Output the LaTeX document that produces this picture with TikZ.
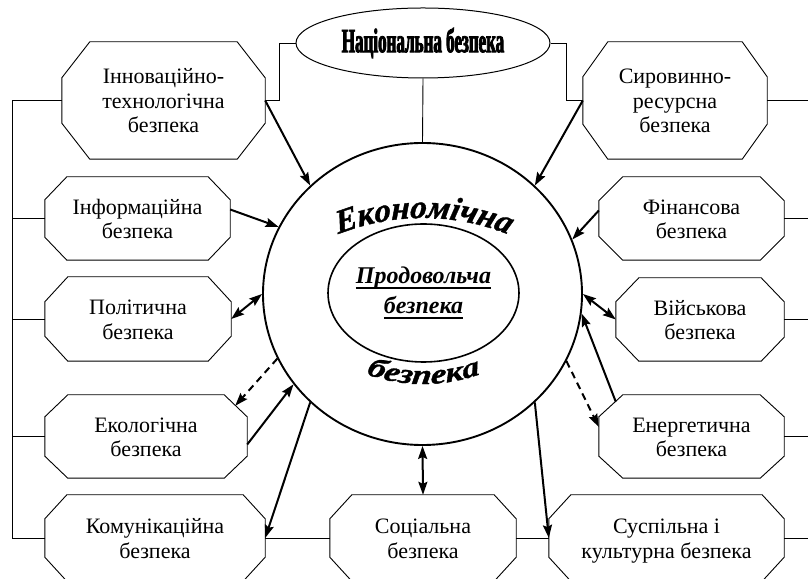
\documentclass[tikz,border=0pt]{standalone}
\usepackage{fontspec}
\setmainfont{Liberation Serif}
\newfontfamily\natfont[FakeStretch=0.5,FakeBold=2.5]{Liberation Serif}
\newfontfamily\ecofont[UprightFont=* Bold Italic,FakeSlant=0.12,FakeBold=1.2]{Liberation Serif}
\newfontfamily\foodfont[UprightFont=* Bold Italic]{Liberation Serif}
\newfontfamily\bezfont[UprightFont=* Bold Italic,FakeStretch=1.25,FakeSlant=0.12,FakeBold=1.2]{Liberation Serif}
\usetikzlibrary{arrows.meta,shapes.geometric,decorations.text}
\newcommand\myul[1]{\setbox0\hbox{#1}\rlap{\rule[-5pt]{\wd0}{2.2pt}}\box0}
\newcommand\btxt[1]{\raisebox{-3pt}[\height][\depth]{\begin{tabular}{@{}c@{}}#1\end{tabular}}}
\newcommand\octbox[3]{\draw[line width=0.9pt] ([xshift=#2pt]#1.north west) -- ([xshift=-#2pt]#1.north east) -- ([yshift=-#3pt]#1.north east) -- ([yshift=#3pt]#1.south east) -- ([xshift=-#2pt]#1.south east) -- ([xshift=#2pt]#1.south west) -- ([yshift=#3pt]#1.south west) -- ([yshift=-#3pt]#1.north west) -- cycle;}
\tikzset{
  box/.style={rectangle, draw=none, inner sep=0pt, font=\fontsize{22}{24.5}\selectfont},
  tip/.tip={Stealth[length=13pt,width=9pt,inset=2pt]},
  arr/.style={line width=2pt, -tip},
  darr/.style={line width=2pt, tip-tip},
  dasharr/.style={arr, dash pattern=on 7pt off 5pt},
  lnk/.style={line width=0.9pt}
}
\begin{document}
\begin{tikzpicture}[x=1pt,y=1pt]
\useasboundingbox (0,0) rectangle (808,578);
\clip (0,0) rectangle (808,578);

\node[ellipse, draw, line width=1pt, minimum width=254pt, minimum height=70pt, inner sep=0pt] (nat) at (423,535) {\natfont\bfseries\fontsize{34}{34}\selectfont Національна безпека};
\node[ellipse, draw, line width=1.9pt, minimum width=319pt, minimum height=302pt, inner sep=0pt] (eco) at (422.5,284) {};
\node[ellipse, draw, line width=1.6pt, minimum width=147pt, minimum height=138pt, inner sep=0pt, align=center, font=\foodfont\fontsize{24}{30}\selectfont] (food) at (423.5,285) {\myul{Продовольча}\\\myul{безпека}};

% left column
\node[box, minimum width=203pt, minimum height=117pt] (b1) at (163.5,477.5) {\btxt{Інноваційно-\\технологічна\\безпека}};
\node[box, minimum width=185pt, minimum height=83pt] (b2) at (137.5,359.5) {\btxt{Інформаційна\\безпека}};
\node[box, minimum width=186pt, minimum height=84pt] (b3) at (138,259) {\btxt{Політична\\безпека}};
\node[box, minimum width=202pt, minimum height=83pt] (b4) at (146,141.5) {\btxt{Екологічна\\безпека}};
\node[box, minimum width=220pt, minimum height=86pt] (b5) at (155,40) {\btxt{Комунікаційна\\безпека}};
% bottom
\node[box, minimum width=186pt, minimum height=86pt] (b6) at (423,40) {\btxt{Соціальна\\безпека}};
\node[box, minimum width=235pt, minimum height=86pt] (b7) at (666.5,40) {\btxt{Суспільна і\\культурна безпека}};
% right column
\node[box, minimum width=184pt, minimum height=117pt] (b11) at (675,477.5) {\btxt{Сировинно-\\ресурсна\\безпека}};
\node[box, minimum width=185pt, minimum height=83pt] (b10) at (691.5,359.5) {\btxt{Фінансова\\безпека}};
\node[box, minimum width=168pt, minimum height=83pt] (b8) at (700,258.5) {\btxt{Військова\\безпека}};
\node[box, minimum width=185pt, minimum height=83pt] (b9) at (691.5,141.5) {\btxt{Енергетична\\безпека}};

\octbox{b1}{28}{36}
\octbox{b2}{22}{23}
\octbox{b3}{23}{25}
\octbox{b4}{23}{22}
\octbox{b5}{22}{24}
\octbox{b6}{22}{24}
\octbox{b7}{22}{24}
\octbox{b11}{25}{35}
\octbox{b10}{24}{24}
\octbox{b8}{23}{24}
\octbox{b9}{24}{22}

% arc texts
\path[decorate, decoration={text along path, text align=center, text={|\ecofont\fontsize{33}{33}\selectfont|Економічна}}] (315.02,333.07) arc[start angle=118, end angle=62, radius=230];
\path[decorate, decoration={text along path, text align=center, text={|\bezfont\fontsize{28}{28}\selectfont|безпека}}] (351.16,209.93) arc[start angle=245, end angle=295, radius=170];

% plain links
\draw[lnk] (nat.west) -- ++(-16,0) |- (b1.east);
\draw[lnk] (nat.east) -- ++(16,0) |- (b11.west);
\draw[lnk] (nat.south) -- (eco.north);
\coordinate (lbus) at (12,0);
\coordinate (rbus) at (812,0);
\draw[lnk] (b1.west) -| (lbus |- b5.west) -- (b5.west);
\foreach \b in {b2,b3,b4} \draw[lnk] (\b.west) -- (\b.west -| lbus);
\foreach \b in {b11,b10,b8,b9,b7} \draw[lnk] (\b.east) -- (\b.east -| rbus);
\draw[lnk] (b5.east) -- (b6.west);
\draw[lnk] (b6.east) -- (b7.west);

% arrows
\draw[arr] (b1.east) -- (eco.136);
\draw[arr] ([yshift=9pt]b2.east) -- (eco.155);
\draw[darr] (b3.east) -- (eco.180);
\draw[dasharr] (eco.204) -- ([xshift=-12pt,yshift=-11pt]b4.north east);
\draw[arr] ([yshift=-8pt]b4.east) -- (eco.215);
\draw[arr] (eco.224) -- (b5.east);
\draw[darr] (b6.north) -- (eco.south);
\draw[arr] (eco.316) -- (b7.west);
\draw[dasharr] (eco.335) -- ([yshift=9.5pt]b9.west);
\draw[arr] ([xshift=17pt,yshift=-7pt]b9.north west) -- (eco.353);
\draw[darr] (eco.0) -- (b8.west);
\draw[arr] ([yshift=8pt]b10.west) -- (eco.20);
\draw[arr] (b11.west) -- (eco.44);
\end{tikzpicture}
\end{document}
